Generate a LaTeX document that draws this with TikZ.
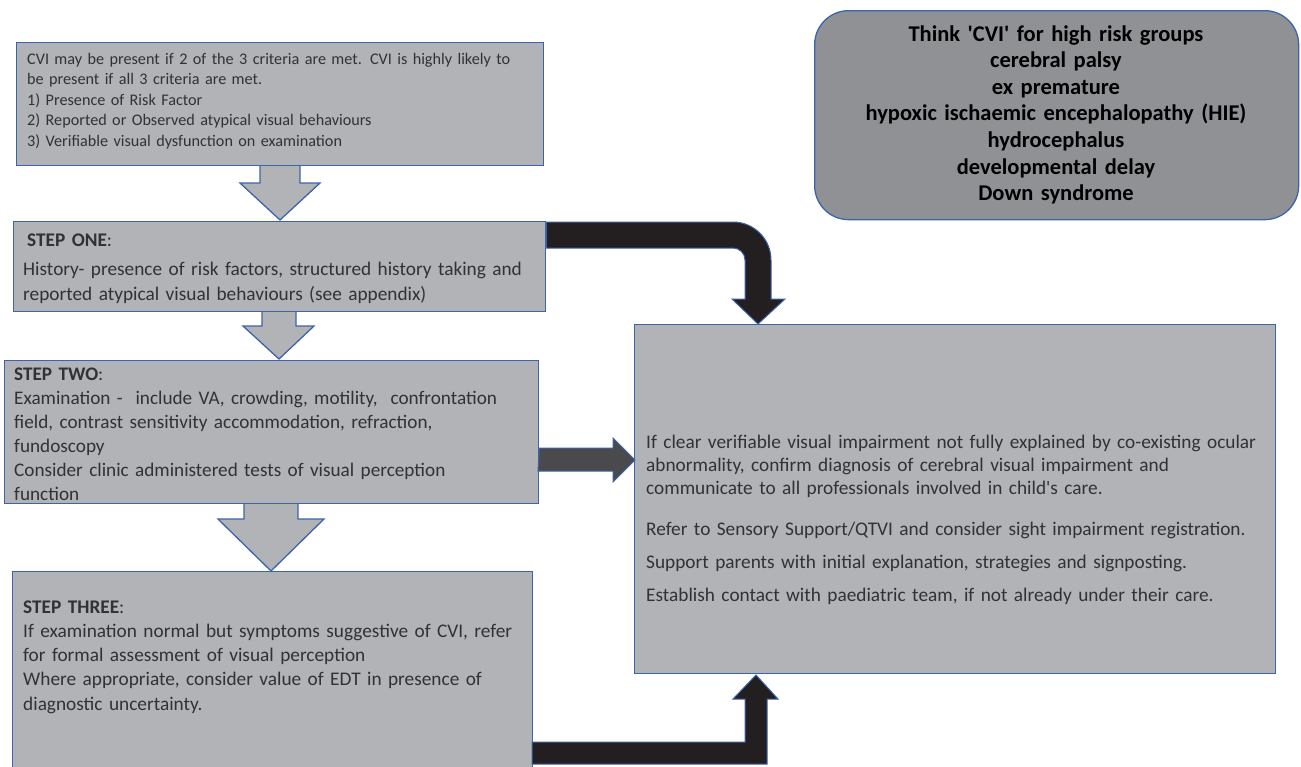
\documentclass[tikz,border=0pt]{standalone}
\usepackage{fontspec}
\setmainfont{Carlito}
\usetikzlibrary{calc}
\definecolor{boxfill}{RGB}{178,179,183}
\definecolor{boxline}{RGB}{60,100,170}
\definecolor{roundfill}{RGB}{144,145,149}
\definecolor{txt}{RGB}{50,50,52}
\definecolor{blk}{RGB}{35,31,32}
\definecolor{dgray}{RGB}{74,74,76}
\begin{document}
\begin{tikzpicture}[x=1pt,y=-1pt,
  flowbox/.style={draw=boxline,fill=boxfill,line width=1.3pt,anchor=north west,inner sep=0pt},
  roundbox/.style={draw=boxline,fill=roundfill,line width=1.3pt,rounded corners=34pt,anchor=north west,inner sep=0pt},
  graydown/.style={draw=boxline,fill=boxfill,line width=1.3pt,line join=miter},
  blackarrow/.style={draw=boxline,fill=blk,line width=1pt,line join=miter},
  darkarrow/.style={draw=boxline,fill=dgray,line width=1pt,line join=miter},
  body/.style={anchor=base west,inner sep=0pt,text=txt,align=left,text width=#1},
]
\useasboundingbox (0,0) rectangle (1301,766);

% gray block arrows (drawn first, under the boxes)
\draw[graydown] (260,165) -- (260,183) -- (240,183) -- (280,220) -- (320,183) -- (300,183) -- (300,165) -- cycle;
\draw[graydown] (262,311) -- (262,326) -- (243,326) -- (279,359) -- (314,326) -- (296,326) -- (296,311) -- cycle;
\draw[graydown] (244,503) -- (244,519) -- (218,519) -- (271,571) -- (324,519) -- (298,519) -- (298,503) -- cycle;

% boxes
\node[flowbox,minimum width=527pt,minimum height=123pt] (A) at (16,42) {};
\node[flowbox,minimum width=532pt,minimum height=90pt] (B) at (13,221) {};
\node[flowbox,minimum width=534pt,minimum height=143pt] (C) at (4,360) {};
\node[flowbox,minimum width=520pt,minimum height=200pt] (D) at (12,571) {};
\node[flowbox,minimum width=641pt,minimum height=349pt] (E) at (634,324) {};
\node[roundbox,minimum width=484pt,minimum height=209pt] (R) at (814,10) {};

% texts
\node[body=520pt,font=\fontsize{16.2}{20.6}\selectfont] (Atext) at (27,64)
 {CVI may be present if 2 of the 3 criteria are met. CVI is highly likely to\\
  be present if all 3 criteria are met.\\
  1) Presence of Risk Factor\\
  2) Reported or Observed atypical visual behaviours\\
  3) Verifiable visual dysfunction on examination};
\node[body=525pt,font=\fontsize{19.3}{25}\selectfont] (Btext) at (23,246)
 {\hspace*{4pt}\textbf{STEP ONE}:\\[4pt]
  History- presence of risk factors, structured history taking and\\
  reported atypical visual behaviours (see appendix)};
\node[body=525pt,font=\fontsize{19.2}{24}\selectfont] (Ctext) at (14,380)
 {\textbf{STEP TWO}:\\
  Examination -\ \ include VA, crowding, motility,\ \ confrontation\\
  field, contrast sensitivity accommodation, refraction,\\
  fundoscopy\\
  Consider clinic administered tests of visual perception\\
  function};
\node[body=505pt,font=\fontsize{19.3}{24.3}\selectfont] (Dtext) at (23,613)
 {\textbf{STEP THREE}:\\
  If examination normal but symptoms suggestive of CVI, refer\\
  for formal assessment of visual perception\\
  Where appropriate, consider value of EDT in presence of\\
  diagnostic uncertainty.};
\node[body=625pt,font=\fontsize{19.3}{23}\selectfont] (Etext) at (646,448)
 {If clear verifiable visual impairment not fully explained by co-existing ocular\\
  abnormality, confirm diagnosis of cerebral visual impairment and\\
  communicate to all professionals involved in child\textquotesingle s care.\\[18pt]
  Refer to Sensory Support/QTVI and consider sight impairment registration.\\[10pt]
  Support parents with initial explanation, strategies and signposting.\\[10pt]
  Establish contact with paediatric team, if not already under their care.};
\node[anchor=base,inner sep=0pt,align=center,text width=480pt,text=black,font=\fontsize{22.5}{26.6}\selectfont\bfseries] (Rtext) at (1056,41)
 {Think \textquotesingle CVI\textquotesingle{} for high risk groups\\
  cerebral palsy\\
  ex premature\\
  hypoxic ischaemic encephalopathy (HIE)\\
  hydrocephalus\\
  developmental delay\\
  Down syndrome};

% black bent arrow: step one -> outcome box
\draw[blackarrow] ($(B.north east)+(0,1)$) -- (733,222) .. controls (754,222) and (771,239) .. (771,260)
  -- (771,299) -- (785,299) -- (758,324) -- (732,299) -- (745,299) -- (745,260)
  .. controls (745,253.4) and (739.6,248) .. (733,248) -- ($(B.north east)+(0,27)$) -- cycle;
% dark gray arrow: step two -> outcome box
\draw[darkarrow] ($(C.east)+(0,16)$) -- (613,448) -- (613,438) -- (635,460) -- (613,482) -- (613,471) -- (538,471) -- cycle;
% black arrow: step three -> outcome box
\draw[blackarrow] (532,742) -- (745,742) -- (745,699) -- (733,699) -- (756,675) -- (778,699) -- (767,699) -- (767,764) -- (532,764) -- cycle;
\end{tikzpicture}
\end{document}
